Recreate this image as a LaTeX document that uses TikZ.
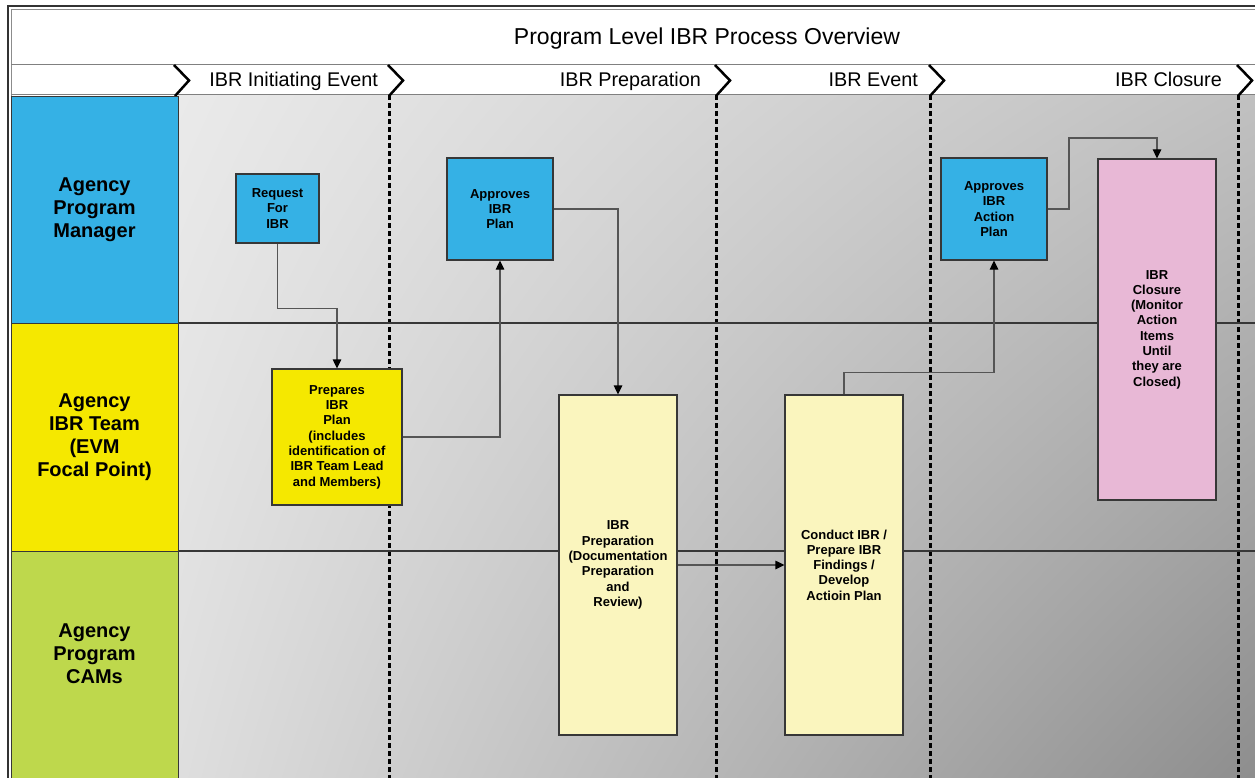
\documentclass[tikz,border=0pt]{standalone}
\usepackage{fontspec}
\setmainfont{Liberation Sans}
\usetikzlibrary{arrows.meta,shadings}
\definecolor{laneblue}{RGB}{53,177,229}
\definecolor{laneyellow}{RGB}{245,232,0}
\definecolor{lanegreen}{RGB}{190,216,76}
\definecolor{paleyellow}{RGB}{250,245,190}
\definecolor{pinkbox}{RGB}{232,184,214}
\definecolor{boxline}{RGB}{55,55,55}
\definecolor{connc}{RGB}{85,85,85}
\definecolor{bgUL}{RGB}{234,234,234}
\definecolor{bgUR}{RGB}{192,192,192}
\definecolor{bgLL}{RGB}{222,222,222}
\definecolor{bgLR}{RGB}{140,140,140}
\begin{document}
\begin{tikzpicture}[x=1pt,y=-1pt,
  box/.style={draw=boxline, line width=1.2pt, inner sep=0pt, align=center,
    font=\fontsize{13}{15.3}\selectfont\bfseries},
  lanebox/.style={draw=boxline, line width=0.8pt, inner sep=0pt, align=center,
    minimum width=167pt, font=\fontsize{20}{23}\selectfont\bfseries},
  conn/.style={draw=connc, line width=1.2pt, -{Triangle[length=9pt,width=8.5pt,fill=black,color=black]}},
  chev/.style={draw=black, line width=2.5pt},
  divider/.style={draw=black, line width=3pt, dash pattern=on 5pt off 3pt},
  phase/.style={inner sep=0pt, anchor=base east, font=\fontsize{19.8}{23}\selectfont},
  sepline/.style={draw=boxline, line width=1.2pt}
]
\useasboundingbox (0,0) rectangle (1255,778);
% frame and header bands
\fill[white] (8,6) rectangle (1265,790);
\draw[line width=2pt, draw=black!80] (8,6) rectangle (1265,790);
\draw[line width=1pt, draw=black!45] (11,10) rectangle (1265,790);
\draw[line width=1pt, draw=black!50] (11,65) -- (1265,65);
% lanes background
\shade[upper left=bgUL, upper right=bgUR, lower left=bgLL, lower right=bgLR]
  (178,95) rectangle (1265,790);
\draw[line width=1pt, draw=black!50] (11,95) -- (1265,95);
% title
\node[anchor=base, inner sep=0pt, font=\fontsize{23}{27}\selectfont] (title) at (707,45) {Program Level IBR Process Overview};
% chevrons and dividers
\foreach \X/\nm in {175/c1, 389/c2, 716/c3, 930/c4, 1238/c5}{
  \draw[chev] (\X-1,65) -- (\X+14,80.5) -- (\X,96);
  \coordinate (\nm) at (\X,95);
}
\foreach \nm in {c2,c3,c4,c5}{
  \draw[divider] (\nm) -- ++(0,690);
}
% phase labels
\node[phase] (ph1) at (378,87) {IBR Initiating Event};
\node[phase] (ph2) at (701,87) {IBR Preparation};
\node[phase] (ph3) at (918,87) {IBR Event};
\node[phase] (ph4) at (1222,87) {IBR Closure};
% lane separators
\coordinate (s1a) at (178,323); \coordinate (s1b) at (1265,323);
\coordinate (s2a) at (178,551); \coordinate (s2b) at (1265,551);
\draw[sepline] (s1a) -- (s1b);
\draw[sepline] (s2a) -- (s2b);
% lane labels
\node[lanebox, fill=laneblue, minimum height=228pt] (lane1) at (94.5,210) {Agency\\Program\\Manager};
\node[lanebox, fill=laneyellow, minimum height=228pt] (lane2) at (94.5,437) {Agency\\IBR Team\\(EVM\\Focal Point)};
\node[lanebox, fill=lanegreen, minimum height=232pt] (lane3) at (94.5,667)
  {\raisebox{27pt}{\shortstack{Agency\\[2pt]Program\\[2pt]CAMs}}};
% process boxes
\node[box, fill=laneblue, minimum width=83pt, minimum height=69pt] (req) at (277.5,208.5) {Request\\For\\IBR};
\node[box, fill=laneblue, minimum width=106pt, minimum height=102pt] (appplan) at (500,209) {Approves\\IBR\\Plan};
\node[box, fill=laneblue, minimum width=106pt, minimum height=102pt] (appact) at (994,209) {Approves\\IBR\\Action\\Plan};
\node[box, fill=laneyellow, minimum width=130pt, minimum height=136pt] (prepares) at (337,437)
  {Prepares\\IBR\\Plan\\(includes\\identification of\\IBR Team Lead\\and Members)};
\node[box, fill=paleyellow, minimum width=118pt, minimum height=340pt] (ibrprep) at (618,565)
  {\raisebox{-6pt}{\parbox{116pt}{\centering IBR\\Preparation\\(Documentation\\Preparation\\and\\Review)}}};
\node[box, fill=paleyellow, minimum width=118pt, minimum height=340pt] (conduct) at (844,565)
  {Conduct IBR /\\Prepare IBR\\Findings /\\Develop\\Actioin Plan};
\node[box, fill=pinkbox, minimum width=118pt, minimum height=341pt] (closure) at (1157,329.5)
  {IBR\\Closure\\(Monitor\\Action\\Items\\Until\\they are\\Closed)};
% connectors
\coordinate (k1) at (1069,138);
\draw[conn] (req.south) -- ++(0,65) -| (prepares.north);
\draw[conn] (prepares.east) -| (appplan.south);
\draw[conn] (appplan.east) -| (ibrprep.north);
\draw[conn] (ibrprep.east) -- (conduct.west);
\draw[conn] (conduct.north) -- ++(0,-22) -| (appact.south);
\draw[conn] (appact.east) -| (k1) -| (closure.north);
\end{tikzpicture}
\end{document}
